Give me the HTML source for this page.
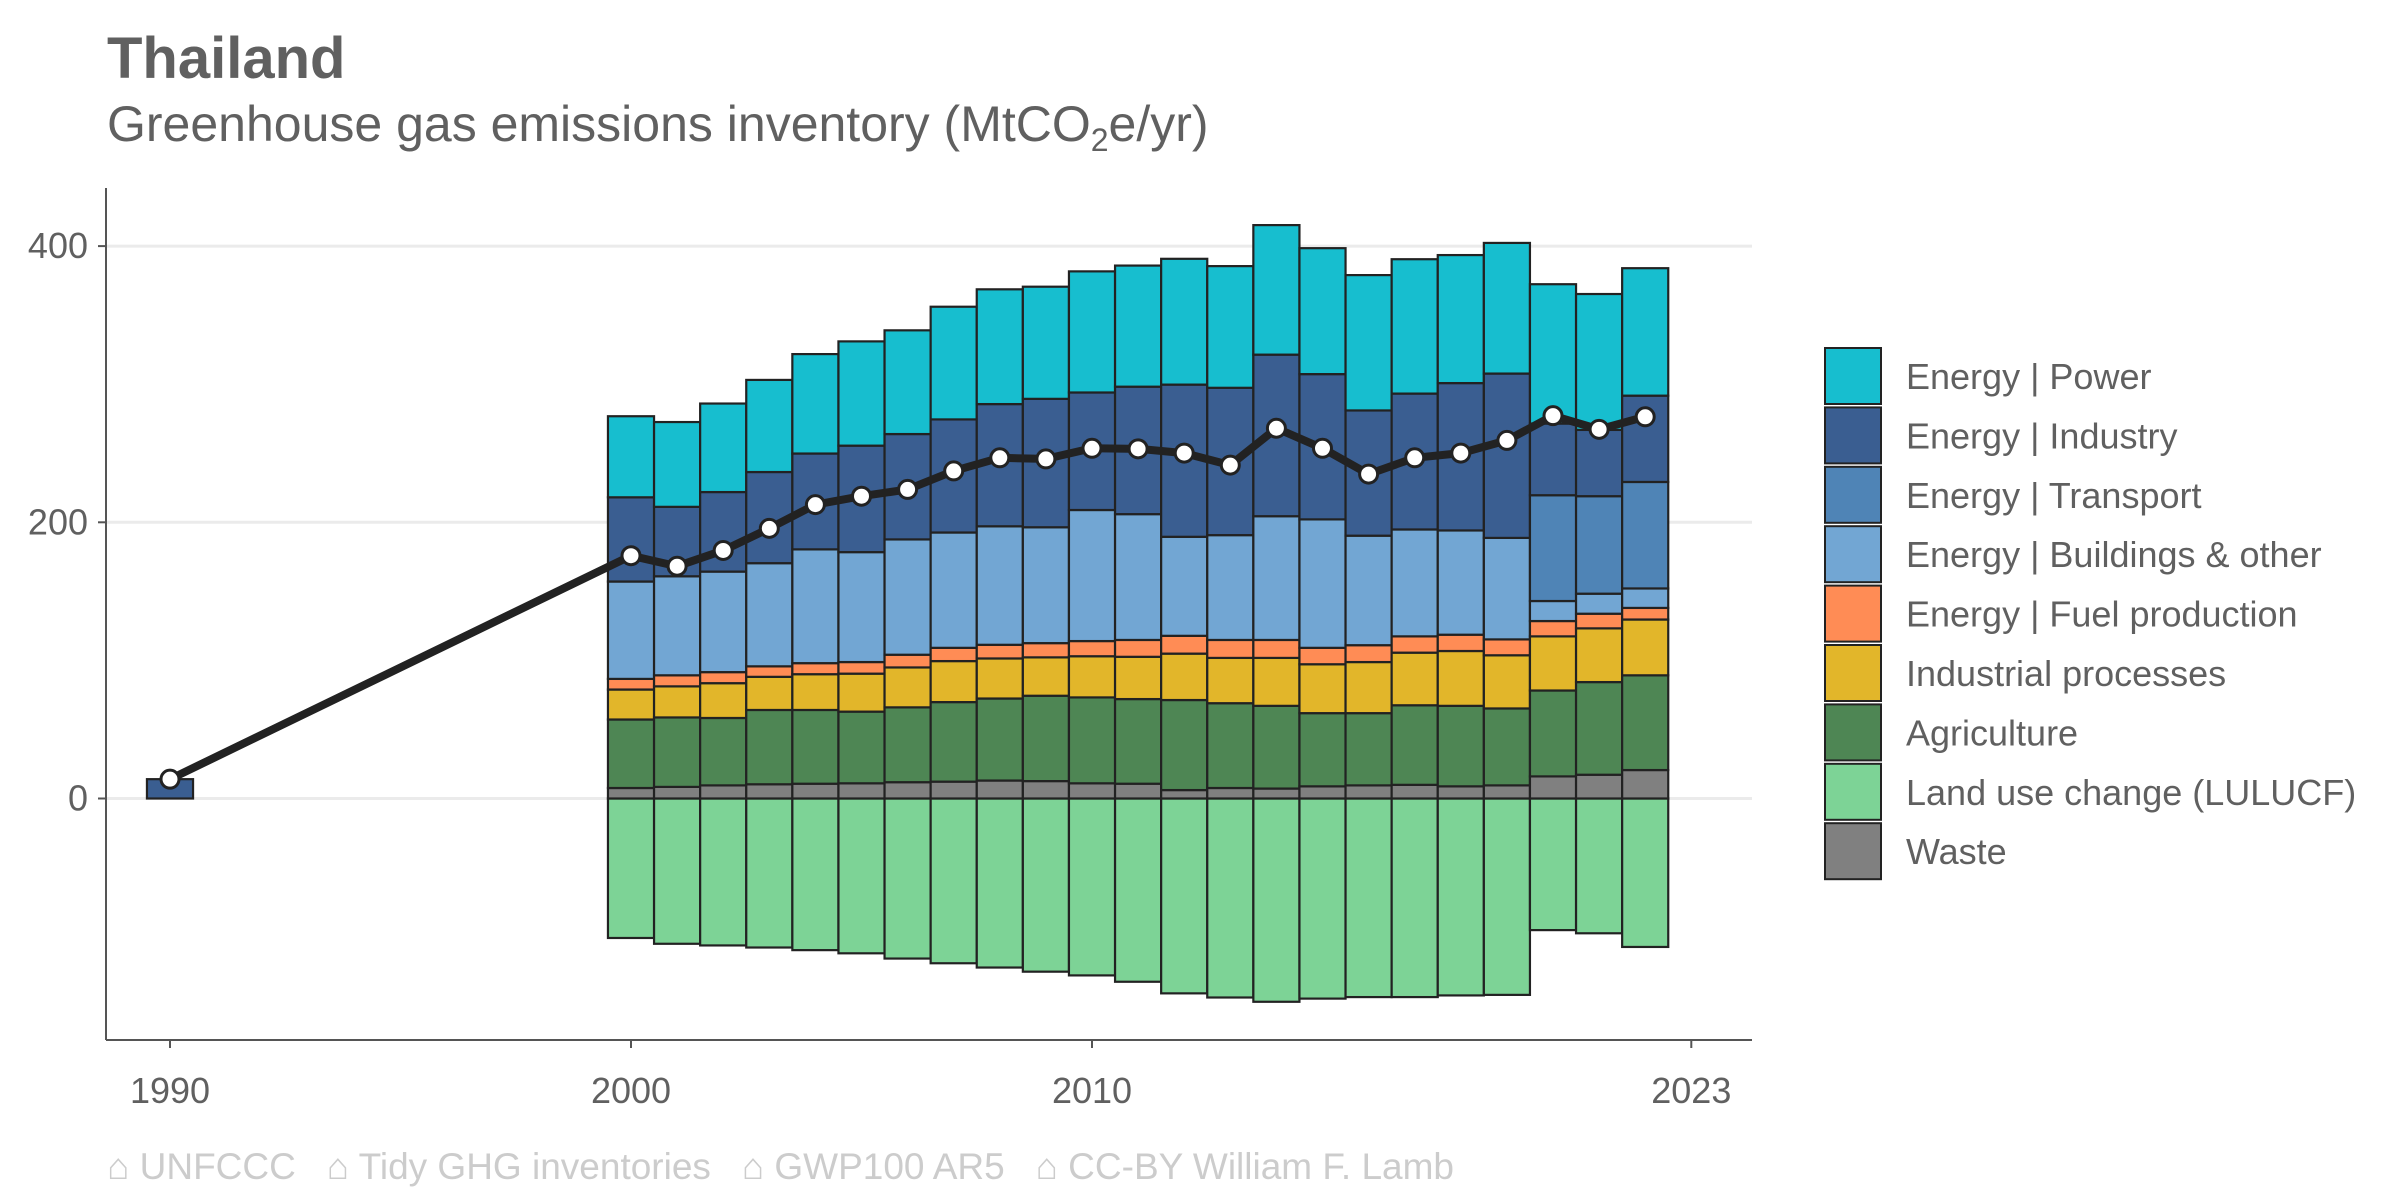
<!DOCTYPE html>
<html><head><meta charset="utf-8">
<style>
html,body{margin:0;padding:0;background:#fff;}
svg{display:block;font-family:"Liberation Sans",Arial,sans-serif;}
</style></head>
<body>
<svg id="chart" width="2400" height="1200" viewBox="0 0 2400 1200">
  <text x="107" y="78" font-size="58" font-weight="bold" fill="#606060">Thailand</text>
  <text x="107" y="141" font-size="50" fill="#606060">Greenhouse gas emissions inventory (MtCO<tspan font-size="32" dy="10">2</tspan><tspan dy="-10">e/yr)</tspan></text>
  <g id="grid"></g>
  <g id="bars"></g>
  <g id="axes"></g>
  <g id="net"></g>
  <g id="legend"></g>
  <text x="107" y="1179" font-size="37" fill="#cccccc" xml:space="preserve">⌂ UNFCCC   ⌂ Tidy GHG inventories   ⌂ GWP100 AR5   ⌂ CC-BY William F. Lamb</text>
</svg>
<script>
const years = [2000,2001,2002,2003,2004,2005,2006,2007,2008,2009,2010,2011,2012,2013,2014,2015,2016,2017,2018,2019,2020,2021,2022];
const waste     = [7.6,8.4,9.5,10.3,10.7,11,11.8,12.2,13,12.6,11,10.7,6.1,7.6,7.2,8.8,9.5,9.9,8.8,9.5,16,17.2,20.6];
const agriculture=[49.6,50.3,48.8,53.8,53.4,51.9,54.2,57.6,59.4,61.8,62.2,61.3,65.2,61.4,59.9,53,52.3,57.6,58.3,55.7,62.2,67.1,68.6];
const industrial= [21.7,22.5,25.2,24,25.9,27.5,28.9,29.7,29,27.8,29.8,30.6,33.6,32.8,34.7,35.4,37,38.1,39.7,38.5,39.2,38.9,40.4];
const fuelProd  = [7.7,8,8,7.6,8,8.4,9.2,9.6,9.9,10.3,11,12.2,12.9,13,13,11.9,12.2,11.8,11.8,11.5,11.1,10.6,8.4];
const buildings = [70.5,71.7,72.8,74.7,82.4,79.6,83.5,83.5,85.8,83.9,94.9,91.1,71.7,75.9,89.6,93,79.3,77.4,75.5,73.5,14.5,14.5,14.1];
const transport = [0,0,0,0,0,0,0,0,0,0,0,0,0,0,0,0,0,0,0,0,76.6,70.6,77.1];
const industry  = [61,50.3,57.6,66,69.4,77.1,76.3,81.9,88.5,93,85.1,92.3,110.2,106.7,117,105.2,90.7,98.4,106.7,119,51.9,48,62.5];
const power     = [58.7,61.4,64.1,66.7,72,75.5,75.1,81.6,83.1,81.2,87.7,87.7,91.1,88.1,93.8,91.2,98,97.3,92.7,94.6,100.9,98.4,92.3];
const lulucf    = [-101,-105.2,-106.4,-107.9,-109.8,-112.1,-115.9,-119.3,-122.4,-125.4,-128.1,-132.7,-141.1,-144.1,-147.2,-144.9,-143.8,-143.8,-142.6,-142.2,-95.3,-97.6,-107.5];
const netYears  = [1990,2000,2001,2002,2003,2004,2005,2006,2007,2008,2009,2010,2011,2012,2013,2014,2015,2016,2017,2018,2019,2020,2021,2022];
const netValues = [14,175.8,168.2,179.6,195.6,212.8,218.9,223.8,237.2,246.7,245.9,253.6,253.2,250.1,241.4,268.1,253.6,234.9,246.7,250.1,259.3,277.2,267.3,276.4];
const baseYear = [1990];
const baseValue = [14];
const yTicks = [0,200,400];
const xTicks = [1990,2000,2010,2023];

const NS='http://www.w3.org/2000/svg';
const X0=106, X1=1752, YT=188, YB=1040;
function xs(y){return 631+(y-2000)*46.1;}
function ys(v){return 798.5-v*1.381;}
const BW=46.1;
function mk(tag,attrs,parent){const e=document.createElementNS(NS,tag);for(const k in attrs)e.setAttribute(k,attrs[k]);parent.appendChild(e);return e;}

const grid=document.getElementById('grid');
yTicks.forEach(t=>{
  const l=mk('line',{x1:X0,x2:X1,y1:ys(t),y2:ys(t),stroke:'#ebebeb','stroke-width':3},grid);
  
  
});

const series=[
 {name:'Waste',vals:waste,color:'#808080'},
 {name:'Agriculture',vals:agriculture,color:'#4e8654'},
 {name:'Industrial processes',vals:industrial,color:'#e2b62a'},
 {name:'Energy | Fuel production',vals:fuelProd,color:'#ff8c55'},
 {name:'Energy | Buildings & other',vals:buildings,color:'#72a6d3'},
 {name:'Energy | Transport',vals:transport,color:'#4f84b6'},
 {name:'Energy | Industry',vals:industry,color:'#3a5e91'},
 {name:'Energy | Power',vals:power,color:'#17becf'}
];
const bars=document.getElementById('bars');
years.forEach((yr,i)=>{
  const lr=mk('rect',{x:xs(yr)-BW/2,width:BW,y:ys(0),height:ys(lulucf[i])-ys(0),fill:'#7dd396',stroke:'#222','stroke-width':2.2},bars);
  
  
  let cum=0;
  series.forEach(s=>{
    const v=s.vals[i];
    if(v<=0)return;
    const r=mk('rect',{x:xs(yr)-BW/2,width:BW,y:ys(cum+v),height:ys(cum)-ys(cum+v),fill:s.color,stroke:'#222','stroke-width':2.2},bars);
    
    
    cum+=v;
  });
});
baseYear.forEach((yr,i)=>{
  const r=mk('rect',{x:xs(yr)-BW/2,width:BW,y:ys(baseValue[i]),height:ys(0)-ys(baseValue[i]),fill:'#3a5e91',stroke:'#222','stroke-width':2.2},bars);
  
  
});

const axes=document.getElementById('axes');
const la=mk('line',{x1:X0,x2:X0,y1:YT,y2:YB,stroke:'#555','stroke-width':2},axes);


const ba=mk('line',{x1:X0,x2:X1,y1:YB,y2:YB,stroke:'#555','stroke-width':2},axes);


yTicks.forEach(t=>{
  mk('line',{x1:X0-8,x2:X0,y1:ys(t),y2:ys(t),stroke:'#555','stroke-width':2},axes);
  const tx=mk('text',{x:X0-18,y:ys(t)+12,'text-anchor':'end','font-size':36,fill:'#606060'},axes);
  tx.textContent=t;
  
  
});
xTicks.forEach(t=>{
  mk('line',{x1:xs(t),x2:xs(t),y1:YB,y2:YB+8,stroke:'#555','stroke-width':2},axes);
  const tx=mk('text',{x:xs(t),y:YB+63,'text-anchor':'middle','font-size':36,fill:'#606060'},axes);
  tx.textContent=t;
  
  
});

const net=document.getElementById('net');
const pl=mk('polyline',{points:netYears.map((y,i)=>xs(y)+','+ys(netValues[i])).join(' '),fill:'none',stroke:'#222','stroke-width':8,'stroke-linejoin':'round'},net);


netYears.forEach((y,i)=>{
  const c=mk('circle',{cx:xs(y),cy:ys(netValues[i]),r:9,fill:'#fff',stroke:'#222','stroke-width':3},net);
  
  
});

const legend=document.getElementById('legend');
const legendOrder=[7,6,5,4,3,2,1,'L',0];
legendOrder.forEach((k,j)=>{
  const s = k==='L' ? {name:'Land use change (LULUCF)',color:'#7dd396'} : series[k];
  const g=mk('g',{},legend);
  
  
  const y=348+j*59.4;
  mk('rect',{x:1825,y:y,width:56,height:56,fill:s.color,stroke:'#222','stroke-width':2},g);
  const t=mk('text',{x:1906,y:y+41,'font-size':36,fill:'#606060'},g);
  t.textContent=s.name;
});
</script>
</body></html>
